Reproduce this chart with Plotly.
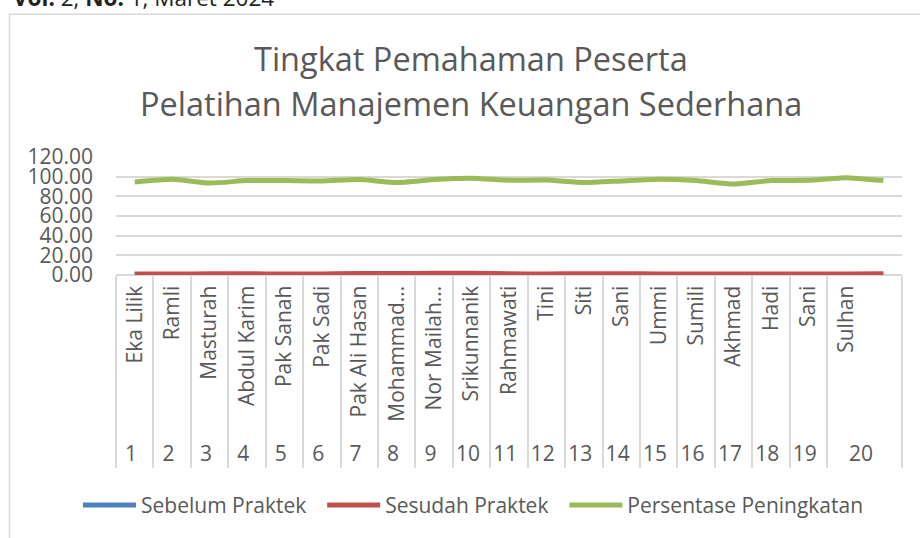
import plotly.graph_objects as go

# ---- data ----
group_labels = [str(i) for i in range(1, 21)] + ["20"]
names = ["Eka Lilik", "Ramli", "Masturah", "Abdul Karim", "Pak Sanah", "Pak Sadi",
         "Pak Ali Hasan", "Mohammad...", "Nor Mailah...", "Srikunnanik", "Rahmawati",
         "Tini", "Siti", "Sani", "Ummi", "Sumili", "Akhmad", "Hadi", "Sani", "Sulhan", " "]
sebelum = [0.6, 0.5, 0.6, 0.6, 0.5, 0.5, 0.8, 0.7, 0.9, 0.9, 0.6,
           0.5, 0.6, 0.6, 0.5, 0.5, 0.5, 0.5, 0.5, 0.5, 0.6]
sesudah = [1.0, 1.0, 1.2, 1.2, 1.0, 1.0, 1.6, 1.4, 1.8, 1.8, 1.2,
           1.1, 1.3, 1.3, 1.0, 1.0, 1.0, 1.0, 1.0, 1.0, 1.2]
persentase = [94.6, 97.3, 93.5, 96.0, 96.0, 95.7, 97.0, 94.0, 97.0, 98.4, 96.3,
              96.6, 94.0, 95.6, 97.3, 96.0, 92.5, 96.0, 96.3, 99.0, 96.0]

series = [
    ("Sebelum Praktek", sebelum, "#4f81bd"),
    ("Sesudah Praktek", sesudah, "#c0504d"),
    ("Persentase Peningkatan", persentase, "#9bbb59"),
]

W, H = 920, 538
L, R, T, B = 116, 902, 156.7, 275.0

def xp(X):
    return (X - L) / (R - L)

def yp(Y):
    return (B - Y) / (B - T)

FONT = "Open Sans"
GRAY = "#595959"
GRID = "#d9d9d9"
PAD = "\u00a0\u00a0"  # spacing after legend text
# small gap between the axis and the rotated name labels
inner_labels = [n + "\u00a0" if n.strip() else n for n in names]

fig = go.Figure()
for i, (nm, vals, col) in enumerate(series):
    label = nm + (PAD if i < len(series) - 1 else "")
    fig.add_trace(go.Scatter(
        x=[group_labels, inner_labels], y=vals, name=label, mode="lines",
        line=dict(color=col, width=5, shape="spline", smoothing=0.5),
    ))

fig.update_layout(
    width=W, height=H,
    margin=dict(l=L, r=W - R, t=T, b=H - B, pad=0),
    paper_bgcolor="white", plot_bgcolor="white",
    font=dict(family=FONT, color=GRAY, size=18),
    showlegend=True,
    legend=dict(orientation="h", x=xp(78), xanchor="left", y=yp(506), yanchor="middle",
                font=dict(size=21, color=GRAY), itemwidth=53,
                bgcolor="rgba(0,0,0,0)", traceorder="normal"),
    xaxis=dict(type="multicategory", tickangle=-90, showgrid=False, ticks="",
               range=[-0.5, 20.5],
               showline=False, zeroline=False, showdividers=True,
               dividercolor=GRID, dividerwidth=1.5,
               tickfont=dict(size=21, color=GRAY, family=FONT)),
    yaxis=dict(range=[0, 120], dtick=20, tickformat=".2f", showgrid=True,
               gridcolor=GRID, gridwidth=1.5, zeroline=True, zerolinecolor=GRID,
               zerolinewidth=1.5, showline=False, ticks="", ticklabelstandoff=22,
               tickfont=dict(size=21, color=GRAY, family=FONT)),
    annotations=[
        dict(text="Tingkat Pemahaman Peserta", x=xp(471), y=yp(58), xref="paper",
             yref="paper", xanchor="center", yanchor="middle", showarrow=False,
             font=dict(size=32.5, color=GRAY, family=FONT)),
        dict(text="Pelatihan Manajemen Keuangan Sederhana", x=xp(471), y=yp(103),
             xref="paper", yref="paper", xanchor="center", yanchor="middle",
             showarrow=False, font=dict(size=32.5, color=GRAY, family=FONT)),
        dict(text="<b>Vol.</b> 2, <b>No.</b> 1, Maret 2024", x=xp(11), y=yp(14),
             xref="paper", yref="paper", xanchor="left", yanchor="bottom",
             showarrow=False, font=dict(size=22.5, color="#222222", family=FONT)),
    ],
    shapes=[
        dict(type="rect", xref="paper", yref="paper", x0=xp(9.5), x1=xp(940),
             y0=yp(13.5), y1=yp(560), line=dict(color=GRID, width=1.5),
             fillcolor="rgba(0,0,0,0)", layer="below"),
    ],
)

fig.write_html("out.html")
